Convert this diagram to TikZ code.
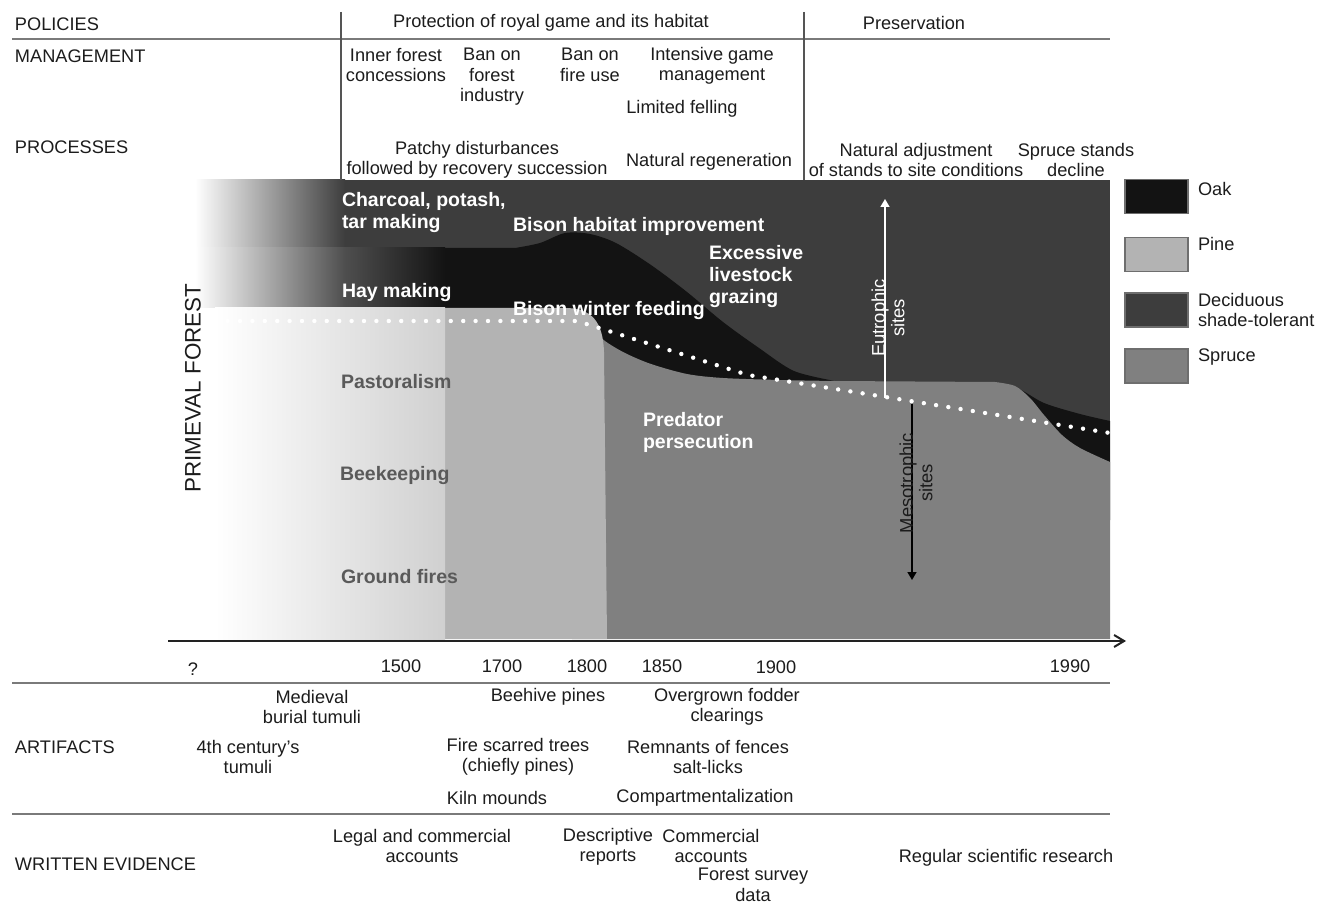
\documentclass[tikz,border=0pt]{standalone}
\usepackage{fontspec}
\setmainfont{Liberation Sans}
\usetikzlibrary{arrows.meta}
\definecolor{decid}{HTML}{3D3D3D}
\definecolor{oak}{HTML}{131313}
\definecolor{pine}{HTML}{B3B3B3}
\definecolor{spruce}{HTML}{808080}
\definecolor{pinefade}{HTML}{D0D0D0}
\definecolor{haymid}{HTML}{4E4E4E}
\definecolor{txt}{HTML}{1C1C1C}
\definecolor{lbl}{HTML}{5A5A5A}
\definecolor{rulec}{HTML}{7A7A7A}
\definecolor{vrulec}{HTML}{555555}
\definecolor{boxc}{HTML}{6E6E6E}
\definecolor{axisc}{HTML}{222222}
\begin{document}
\begin{tikzpicture}[x=0.5pt,y=-0.5pt,
  base/.style={inner sep=0pt, outer sep=0pt, text=txt, font=\fontsize{9.1}{10.2}\selectfont},
  ctext/.style={base, align=center},
  rowhead/.style={base, anchor=west, align=left},
  inlbl/.style={inner sep=0pt, outer sep=0pt, anchor=west, align=left, text=white, font=\fontsize{9.75}{11}\selectfont\bfseries},
  graylbl/.style={inlbl, text=lbl},
  rotlbl/.style={inner sep=0pt, outer sep=0pt, rotate=90, align=center, font=\fontsize{9.2}{9.8}\selectfont},
  hrule/.style={draw=rulec, line width=0.9pt},
  vrule/.style={draw=vrulec, line width=0.6pt},
  legbox/.style={draw=boxc, line width=0.8pt, minimum width=31.5pt, minimum height=17pt, inner sep=0pt},
  dotline/.style={draw=white, line width=2.2pt, line cap=round, dash pattern=on 0pt off 6.2pt},
]
\useasboundingbox (0,0) rectangle (1330,904);

% ---------- chart fills ----------
\fill[decid] (345,180) rectangle (1110,639);
\shade[left color=white, right color=decid] (195,180) rectangle (345,248);
\shade[left color=white, right color=haymid] (195,248) rectangle (345,308);
\shade[left color=haymid, right color=oak] (345,248) rectangle (445,308);
\fill[oak] (445,248) -- plot[smooth] coordinates {(515,248) (540,243) (565,233) (590,234) (616,243) (651,265) (687,292) (723,322) (759,348) (794,371) (835,381)} -- (835,420) -- (445,420) -- cycle;
\fill[oak] plot[smooth] coordinates {(985,382) (1015,387) (1044,403) (1080,414) (1110,421)} -- (1110,520) -- (985,520) -- cycle;
\fill[spruce] plot[smooth] coordinates {(572,309) (590,327) (605,341) (625,353) (651,364) (687,374) (723,378) (780,380) (835,381)} -- plot[smooth] coordinates {(995,382) (1015,386) (1030,398) (1044,415) (1062,435) (1080,448) (1110,462)} -- (1110,639) -- (572,639) -- cycle;
\fill[pine] (445,308) -- (565,308) .. controls (592,308) and (603,322) .. (604,352) -- (607,639) -- (445,639) -- cycle;
\shade[left color=white, right color=pinefade] (215,308) rectangle (445,639);

% dotted site boundary
\coordinate (d0) at (178,321);
\coordinate (d1) at (577,321);
\coordinate (d2) at (748,375);
\coordinate (d3) at (1110,433);
\draw[dotline] (d0) -- (d1) -- (d2) -- (d3);

% site arrows
\coordinate (eutA) at (885,398);
\coordinate (eutB) at (885,199);
\draw[white, line width=0.8pt, -{Triangle[length=4pt,width=4.5pt]}] (eutA) -- (eutB);
\node[rotlbl, text=white] (eut) at (888,318) {Eutrophic\\sites};
\coordinate (mesA) at (912,404);
\coordinate (mesB) at (912,580);
\draw[black, line width=0.8pt, -{Triangle[length=4pt,width=4.5pt]}] (mesA) -- (mesB);
\node[rotlbl, text=txt] (mes) at (916,483) {Mesotrophic\\sites};

% axis
\coordinate (ax0) at (168,641);
\coordinate (ax1) at (1126,641);
\draw[axisc, line width=1pt, -{Straight Barb[length=5pt,width=6pt]}] (ax0) -- (ax1);

% ---------- rules ----------
\draw[hrule] (12,39) -- (1110,39);
\draw[vrule] (341,12) -- (341,180);
\draw[vrule] (804,12) -- (804,180);
\draw[hrule] (12,683) -- (1110,683);
\draw[hrule] (12,814) -- (1110,814);

% ---------- header rows ----------
\node[rowhead] (pol) at (15,24) {POLICIES};
\node[ctext] (prot) at (551,23) {Protection of royal game and its habitat};
\node[ctext] (pres) at (914,23) {Preservation};
\node[rowhead] (man) at (15,56) {MANAGEMENT};
\node[ctext] (inner) at (396,65) {Inner forest\\concessions};
\node[ctext] (banfor) at (492,77) {Ban on\\forest\\industry};
\node[ctext] (banfire) at (590,65) {Ban on\\fire use};
\node[ctext] (intens) at (712,66) {Intensive game\\management};
\node[ctext] (limfel) at (682,109) {Limited felling};
\node[rowhead] (proc) at (15,147) {PROCESSES};
\node[ctext] (patchy) at (477,160) {Patchy disturbances\\followed by recovery succession};
\node[ctext] (natreg) at (709,162) {Natural regeneration};
\node[ctext] (natadj) at (916,160) {Natural adjustment\\of stands to site conditions};
\node[ctext] (spdec) at (1076,160) {Spruce stands\\decline};

% ---------- chart labels ----------
\node[inlbl] (charc) at (342,213) {Charcoal, potash,\\tar making};
\node[inlbl] (bisonh) at (513,226) {Bison habitat improvement};
\node[inlbl] (hay) at (342,293) {Hay making};
\node[inlbl] (bisonw) at (513,311) {Bison winter feeding};
\node[inlbl] (excess) at (709,277) {Excessive\\livestock\\grazing};
\node[graylbl] (past) at (341,382) {Pastoralism};
\node[graylbl] (bee) at (340,475) {Beekeeping};
\node[graylbl] (gfire) at (341,577) {Ground fires};
\node[inlbl] (pred) at (643,432) {Predator\\persecution};
\node[inner sep=0pt, rotate=90, text=txt, font=\fontsize{11.2}{12}\selectfont] (prim) at (193,388) {PRIMEVAL FOREST};

% ---------- legend ----------
\node[legbox, fill=oak] (lgoak) at (1156.5,196.5) {};
\node[rowhead] (lgoakt) at (1198,189) {Oak};
\node[legbox, fill=pine] (lgpine) at (1156.5,254.5) {};
\node[rowhead] (lgpinet) at (1198,244) {Pine};
\node[legbox, fill=decid] (lgdec) at (1156.5,310) {};
\node[rowhead] (lgdect) at (1198,310) {Deciduous\\shade-tolerant};
\node[legbox, fill=spruce] (lgspr) at (1156.5,366) {};
\node[rowhead] (lgsprt) at (1198,357) {Spruce};

% ---------- axis labels ----------
\node[ctext] (yq) at (193,669) {?};
\node[ctext] (y1500) at (401,666) {1500};
\node[ctext] (y1700) at (502,666) {1700};
\node[ctext] (y1800) at (587,666) {1800};
\node[ctext] (y1850) at (662,666) {1850};
\node[ctext] (y1900) at (776,667) {1900};
\node[ctext] (y1990) at (1070,666) {1990};

% ---------- artifacts ----------
\node[ctext] (medi) at (312,707) {Medieval\\burial tumuli};
\node[ctext] (beeh) at (548,697) {Beehive pines};
\node[ctext] (overg) at (727,707) {Overgrown fodder\\clearings};
\node[rowhead] (art) at (15,747) {ARTIFACTS};
\node[ctext] (fourth) at (248,757) {4th century’s\\tumuli};
\node[ctext] (firesc) at (518,757) {Fire scarred trees\\(chiefly pines)};
\node[ctext] (remn) at (708,757) {Remnants of fences\\salt-licks};
\node[ctext] (kiln) at (497,798) {Kiln mounds};
\node[ctext] (compt) at (705,798) {Compartmentalization};

% ---------- written evidence ----------
\node[ctext] (legal) at (422,846) {Legal and commercial\\accounts};
\node[ctext] (descr) at (608,847) {Descriptive\\reports};
\node[ctext] (comm) at (711,846) {Commercial\\accounts};
\node[ctext] (fsurv) at (753,885) {Forest survey\\data};
\node[rowhead] (wrev) at (15,864) {WRITTEN EVIDENCE};
\node[ctext] (regsci) at (1006,858) {Regular scientific research};
\end{tikzpicture}
\end{document}
